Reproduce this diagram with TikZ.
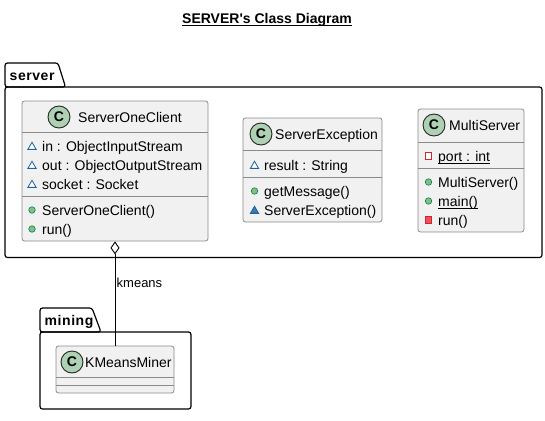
\documentclass[tikz,border=0pt]{standalone}
\usepackage{fontspec}
\setmainfont{Liberation Sans}
\usetikzlibrary{arrows.meta,shapes.geometric}
\definecolor{classfill}{HTML}{F1F1F1}
\definecolor{classline}{HTML}{8A8A8A}
\definecolor{spotfill}{HTML}{ADD1B2}
\definecolor{pubfill}{HTML}{84BE84}
\definecolor{publine}{HTML}{038048}
\definecolor{pkgline}{HTML}{1963A0}
\definecolor{pkgfill}{HTML}{4177AF}
\definecolor{privline}{HTML}{C82930}
\definecolor{privfill}{HTML}{F24D5C}
\newcommand{\ulbl}[1]{\setbox0\hbox{#1}\rlap{\rule[-1.8pt]{\wd0}{.8pt}}\box0}
\begin{document}
\begin{tikzpicture}
  [x=1pt,y=-1pt,
   package/.style={draw=black,line width=1.2pt,rounded corners=2.5pt},
   classbox/.style={draw=classline,fill=classfill,line width=.8pt,rounded corners=2.5pt,inner sep=0pt},
   sepline/.style={draw=classline,line width=.8pt},
   spot/.style={circle,draw=black!85,fill=spotfill,line width=.9pt,minimum size=22pt,inner sep=0pt,font=\bfseries\fontsize{14}{14}\selectfont},
   classname/.style={anchor=west,inner sep=0pt,font=\fontsize{14}{14}\selectfont,text height=11pt,text depth=0pt},
   member/.style={anchor=west,inner sep=0pt,font=\fontsize{14}{14}\selectfont,text height=11pt,text depth=0pt},
   pkgname/.style={anchor=west,inner sep=0pt,font=\bfseries\fontsize{14}{14}\selectfont\addfontfeature{LetterSpace=4},text height=11pt,text depth=0pt},
   pubicon/.style={circle,draw=publine,fill=pubfill,line width=.6pt,minimum size=6.5pt,inner sep=0pt},
   pkgopen/.style={regular polygon,regular polygon sides=3,draw=pkgline,fill=white,line width=.8pt,minimum size=9.5pt,inner sep=0pt,yshift=-1pt},
   pkgsolid/.style={regular polygon,regular polygon sides=3,draw=pkgline,fill=pkgfill,line width=.8pt,minimum size=9.5pt,inner sep=0pt,yshift=-1pt},
   privopen/.style={rectangle,draw=privline,fill=white,line width=.8pt,minimum size=6.5pt,inner sep=0pt},
   privsolid/.style={rectangle,draw=privline,fill=privfill,line width=.8pt,minimum size=6.5pt,inner sep=0pt}]
  \useasboundingbox (0,0) rectangle (545,420);

  \node [anchor=base,inner sep=0pt,font=\bfseries\fontsize{14}{14}\selectfont] (title) at (267,24) {\ulbl{SERVER\textquotesingle s Class Diagram}};

  % packages
  \draw [package] (5,87) -- (5,63) -- (58,63) -- (65.5,87) -- cycle;
  \draw [package] (5,87) rectangle (542,257.5);
  \node [pkgname] (serverpkg) at (9.5,75) {server};
  \draw [package] (40,332) -- (40,308) -- (92,308) -- (101,332) -- cycle;
  \draw [package] (40,332) rectangle (191,409);
  \node [pkgname] (miningpkg) at (44.5,320) {mining};

  % class boxes
  \node [classbox,minimum width=186pt,minimum height=140pt] (soc) at (115,171) {};
  \node [classbox,minimum width=139pt,minimum height=104pt] (sex) at (312.5,170) {};
  \node [classbox,minimum width=106pt,minimum height=123pt] (mse) at (471,170.5) {};
  \node [classbox,minimum width=118pt,minimum height=47pt] (kmm) at (115,369.5) {};

  \foreach \from/\to/\ypos in {22/208/132,22/208/196,243/382/150,243/382/177,418/524/142,418/524/168,56/174/377,56/174/385}
    \draw [sepline] (\from,\ypos) -- (\to,\ypos);

  % headers
  \foreach \id/\xspot/\xname/\ypos/\name in {soc/59/78/117/ServerOneClient,sex/261/275/134/ServerException,mse/434/449/125/MultiServer,kmm/72/85/362/KMeansMiner}
  {
    \node [spot] (\id c) at (\xspot,\ypos) {C};
    \node [classname] (\id n) at (\xname,\ypos) {\name};
  }

  % members
  \foreach \id/\icon/\xicon/\xtext/\ypos/\txt in {
    a1/pkgopen/32/42/146/in : ObjectInputStream,
    a2/pkgopen/32/42/165/out : ObjectOutputStream,
    a3/pkgopen/32/42/184/socket : Socket,
    a4/pubicon/32/42/210/ServerOneClient(),
    a5/pubicon/32/42/229/run(),
    b1/pkgopen/254.5/264/165/result : String,
    b2/pubicon/254.5/264/191/getMessage(),
    b3/pkgsolid/254.5/264/210/ServerException(),
    c1/privopen/428.5/438/156/\ulbl{port : int},
    c2/pubicon/428.5/438/182/MultiServer(),
    c3/pubicon/428.5/438/201/\ulbl{main()},
    c4/privsolid/428.5/438/220/run()}
  {
    \node [\icon] (\id i) at (\xicon,\ypos) {};
    \node [member] (\id t) at (\xtext,\ypos) {\txt};
  }

  % aggregation
  \draw [line width=.9pt,{Diamond[open,length=13pt,width=9pt]}-] (soc.south) -- (kmm.north);
  \node [anchor=west,inner sep=0pt,font=\fontsize{13}{13}\selectfont] (kmeans) at (116.5,283) {kmeans};
\end{tikzpicture}
\end{document}
